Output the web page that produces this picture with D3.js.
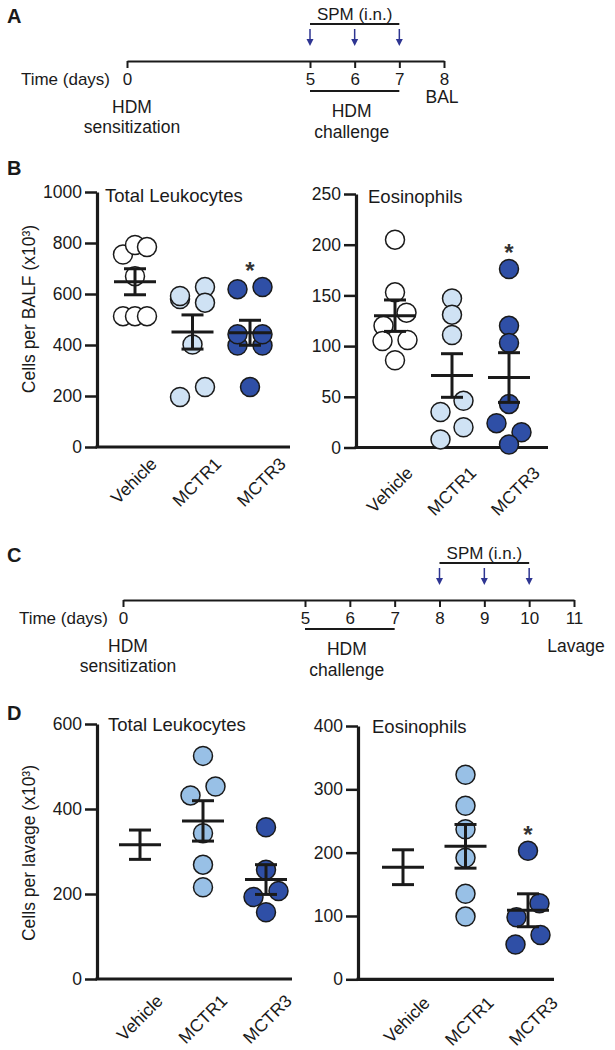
<!DOCTYPE html>
<html>
<head>
<meta charset="utf-8">
<script src="https://cdn.jsdelivr.net/npm/d3@7"></script>
<style>
  body { margin: 0; background: #fff; }
  svg { display: block; }
</style>
</head>
<body>
<svg id="fig"></svg>
<script>
// timeline days
const aDays = [0, 5, 6, 7, 8];
const aSpmDays = [5, 6, 7];
const cDays = [0, 5, 6, 7, 8, 9, 10, 11];
const cSpmDays = [8, 9, 10];

const groups = ["Vehicle", "MCTR1", "MCTR3"];

// B: BALF (x10^3)
const bLeukVehicle = [755, 792, 784, 670, 513, 513, 513];
const bLeukMCTR1 = [580, 592, 627, 566, 402, 196, 235];
const bLeukMCTR3 = [619, 627, 398, 442, 398, 442, 235];
const bLeukMean = [648, 451, 448];
const bLeukSem = [51, 67, 49];
const bLeukSig = [false, false, true];
const bLeukTicks = [0, 200, 400, 600, 800, 1000];

const bEosVehicle = [205, 153, 133, 120, 105, 106, 86];
const bEosMCTR1 = [147, 131, 111, 46, 35, 20, 8];
const bEosMCTR3 = [176, 120, 103, 43, 24, 15, 3];
const bEosMean = [130, 71, 69];
const bEosSem = [15.5, 21.5, 24.5];
const bEosSig = [false, false, true];
const bEosTicks = [0, 50, 100, 150, 200, 250];

// D: lavage (x10^3)
const dLeukVehicle = [];
const dLeukMCTR1 = [525, 432, 453, 343, 269, 216];
const dLeukMCTR3 = [357, 257, 193, 207, 157];
const dLeukMean = [316, 372, 234];
const dLeukSem = [34.5, 47.5, 35];
const dLeukSig = [false, false, false];
const dLeukTicks = [0, 200, 400, 600];

const dEosVehicle = [];
const dEosMCTR1 = [323, 274, 237, 192, 135, 99];
const dEosMCTR3 = [203, 120, 98, 55, 70];
const dEosMean = [177, 210, 109];
const dEosSem = [27.5, 34.5, 26];
const dEosSig = [false, false, true];
const dEosTicks = [0, 100, 200, 300, 400];

const FONT = '"Liberation Sans", Arial, Helvetica, sans-serif';
const ink = "#1a1a1a";
const arrowBlue = "#2e3592";
const bFill = ["#ffffff", "#cfe2f4", "#2f4fa6"];
const dFill = ["#ffffff", "#98c0e6", "#2f4fa6"];
const R = 9.5;

const svg = d3.select("#fig")
    .attr("width", 615)
    .attr("height", 1050)
    .style("font-family", FONT);

// panel letters
[["A", 23], ["B", 175], ["C", 562], ["D", 720]].forEach(([t, yy]) => {
  svg.append("text").attr("x", 7).attr("y", yy)
      .attr("font-size", 20).attr("font-weight", "bold").attr("fill", ink).text(t);
});

// spread points that sit close together, GraphPad-style
function swarm(vals, y) {
  const off = vals.map(() => 0);
  const order = d3.range(vals.length).sort((a, b) => vals[b] - vals[a] || a - b);
  const rows = [];
  order.forEach(i => {
    const row = rows[rows.length - 1];
    if (row && y(vals[i]) - y(vals[row[0]]) <= 10) row.push(i);
    else rows.push([i]);
  });
  let chain = [];
  const flush = () => {
    if (chain.length > 1) chain.forEach((i, k) => off[i] = k % 2 ? -11.5 : 11.5);
    chain = [];
  };
  rows.forEach(row => {
    if (row.length > 1) {
      flush();
      const sp = row.length === 2 ? 25 : 12;
      row.sort((a, b) => a - b).forEach((i, k) => off[i] = (k - (row.length - 1) / 2) * sp);
    } else {
      const prev = chain[chain.length - 1];
      if (prev !== undefined && y(vals[row[0]]) - y(vals[prev]) >= 16) flush();
      chain.push(row[0]);
    }
  });
  flush();
  return off;
}

function timeline(cfg) {
  const g = svg.append("g");
  const x = d3.scaleLinear().domain(cfg.dom).range(cfg.rng);

  const ax = g.append("g")
      .attr("transform", `translate(0,${cfg.lineY})`)
      .call(d3.axisBottom(x).tickValues(cfg.days).tickFormat(d3.format("d"))
          .tickSize(7).tickSizeOuter(0).tickPadding(5))
      .attr("font-size", 17).attr("font-family", FONT);
  ax.select(".domain").attr("stroke", ink).attr("stroke-width", 2);
  ax.selectAll(".tick line").attr("stroke", ink).attr("stroke-width", 2);
  ax.selectAll(".tick text").attr("fill", ink);

  g.append("text").attr("x", cfg.timeX).attr("y", cfg.lineY + 24)
      .attr("text-anchor", "end").attr("font-size", 17).attr("fill", ink)
      .text("Time (days)");

  // SPM bracket + arrows
  const s0 = cfg.spm[0], s1 = cfg.spm[cfg.spm.length - 1];
  g.append("line").attr("x1", x(s0)).attr("x2", x(s1))
      .attr("y1", cfg.spmY).attr("y2", cfg.spmY)
      .attr("stroke", ink).attr("stroke-width", 2);
  g.append("text").attr("x", (x(s0) + x(s1)) / 2).attr("y", cfg.spmY - 4)
      .attr("text-anchor", "middle").attr("font-size", 17).attr("fill", ink)
      .text("SPM (i.n.)");
  cfg.spm.forEach(d => {
    const ya = cfg.spmY + 5, yb = cfg.spmY + 22;
    g.append("line").attr("x1", x(d)).attr("x2", x(d))
        .attr("y1", ya).attr("y2", yb - 5)
        .attr("stroke", arrowBlue).attr("stroke-width", 1.5);
    g.append("path")
        .attr("d", `M${x(d) - 3.5},${yb - 7}L${x(d) + 3.5},${yb - 7}L${x(d)},${yb}Z`)
        .attr("fill", arrowBlue);
  });

  // challenge bracket
  g.append("line").attr("x1", x(5)).attr("x2", x(7))
      .attr("y1", cfg.chalY).attr("y2", cfg.chalY)
      .attr("stroke", ink).attr("stroke-width", 2);
  const t = g.append("text").attr("text-anchor", "middle").attr("font-size", 17.5).attr("fill", ink);
  t.append("tspan").attr("x", x(6) - 3).attr("y", cfg.chalY + 26).text("HDM");
  t.append("tspan").attr("x", x(6) - 3).attr("y", cfg.chalY + 47).text("challenge");

  const s = g.append("text").attr("text-anchor", "middle").attr("font-size", 17.5).attr("fill", ink);
  s.append("tspan").attr("x", x(0) + 5).attr("y", cfg.lineY + 52).text("HDM");
  s.append("tspan").attr("x", x(0) + 5).attr("y", cfg.lineY + 72).text("sensitization");

  g.append("text").attr("x", x(cfg.days[cfg.days.length - 1]) + cfg.endDx).attr("y", cfg.endY)
      .attr("text-anchor", "middle").attr("font-size", 17.5).attr("fill", ink)
      .text(cfg.endLabel);
}

function scatterPanel(cfg) {
  const g = svg.append("g");
  const y = d3.scaleLinear().domain([0, cfg.max]).range([cfg.y0, cfg.y1]);
  const x = d3.scalePoint().domain(groups).range(cfg.xr);
  const lx = d3.scalePoint().domain(groups).range(cfg.lxr);

  const ax = g.append("g")
      .attr("transform", `translate(${cfg.ax},0)`)
      .call(d3.axisLeft(y).tickValues(cfg.ticks).tickFormat(d3.format("d"))
          .tickSize(12).tickSizeOuter(0).tickPadding(3))
      .attr("font-size", 17.5).attr("font-family", FONT);
  ax.select(".domain").attr("stroke", ink).attr("stroke-width", 3.2);
  ax.selectAll(".tick line").attr("stroke", ink).attr("stroke-width", 2.5);
  ax.selectAll(".tick text").attr("fill", ink);

  g.append("line")
      .attr("x1", cfg.ax - 1.5).attr("x2", cfg.axEnd)
      .attr("y1", y(0)).attr("y2", y(0))
      .attr("stroke", ink).attr("stroke-width", 3.2);

  // points
  cfg.data.forEach((vals, i) => {
    const off = swarm(vals, y);
    g.append("g").selectAll("circle")
        .data(vals)
        .enter()
        .append("circle")
        .attr("cx", (d, j) => x(groups[i]) + off[j])
        .attr("cy", d => y(d))
        .attr("r", R)
        .attr("fill", cfg.fill[i])
        .attr("stroke", ink)
        .attr("stroke-width", 1.5);
  });

  // mean +/- SEM
  groups.forEach((grp, i) => {
    const cx = x(grp), m = cfg.mean[i], e = cfg.sem[i];
    const seg = (x1, y1, x2, y2) => g.append("line")
        .attr("x1", x1).attr("y1", y1).attr("x2", x2).attr("y2", y2)
        .attr("stroke", ink).attr("stroke-width", 3);
    seg(cx - 21, y(m), cx + 21, y(m));
    seg(cx, y(m - e), cx, y(m + e));
    seg(cx - 11, y(m + e), cx + 11, y(m + e));
    seg(cx - 11, y(m - e), cx + 11, y(m - e));
    if (cfg.sig[i]) {
      g.append("text")
          .attr("x", cx).attr("y", y(d3.max(cfg.data[i])) - 22 + 14)
          .attr("text-anchor", "middle").attr("font-size", 24).attr("font-weight", "bold")
          .attr("fill", "#333").text("*");
    }
  });

  // rotated category labels
  g.selectAll(".xl")
      .data(groups)
      .enter()
      .append("text")
      .attr("text-anchor", "end")
      .attr("font-size", 17.5)
      .attr("fill", ink)
      .attr("transform", d => `translate(${lx(d)},${cfg.ly}) rotate(-45)`)
      .text(d => d);

  g.append("text").attr("x", cfg.tx).attr("y", cfg.ty)
      .attr("font-size", 18.5).attr("fill", ink).text(cfg.title);

  if (cfg.yTitle) {
    g.append("text")
        .attr("transform", `translate(35,${cfg.yTitleY}) rotate(-90)`)
        .attr("text-anchor", "middle").attr("font-size", 17.5).attr("fill", ink)
        .text(cfg.yTitle);
  }
}

timeline({
  dom: [0, 5, 8], rng: [127, 310, 444], days: aDays, spm: aSpmDays,
  lineY: 61, timeX: 110, spmY: 24, chalY: 91,
  endLabel: "BAL", endDx: -2, endY: 103
});

timeline({
  dom: [0, 5, 11], rng: [123, 305, 574], days: cDays, spm: cSpmDays,
  lineY: 600, timeX: 108, spmY: 563, chalY: 629,
  endLabel: "Lavage", endDx: 2, endY: 652
});

scatterPanel({
  data: [bLeukVehicle, bLeukMCTR1, bLeukMCTR3], mean: bLeukMean, sem: bLeukSem, sig: bLeukSig,
  ticks: bLeukTicks, max: 1000, y0: 447, y1: 192, xr: [135, 250], lxr: [158, 287], ly: 465,
  ax: 97, axEnd: 290, fill: bFill, title: "Total Leukocytes", tx: 105, ty: 202,
  yTitle: "Cells per BALF (x10\u00B3)", yTitleY: 309
});

scatterPanel({
  data: [bEosVehicle, bEosMCTR1, bEosMCTR3], mean: bEosMean, sem: bEosSem, sig: bEosSig,
  ticks: bEosTicks, max: 250, y0: 447.5, y1: 194, xr: [395, 509], lxr: [414, 541], ly: 474,
  ax: 356, axEnd: 548, fill: bFill, title: "Eosinophils", tx: 368, ty: 203
});

scatterPanel({
  data: [dLeukVehicle, dLeukMCTR1, dLeukMCTR3], mean: dLeukMean, sem: dLeukSem, sig: dLeukSig,
  ticks: dLeukTicks, max: 600, y0: 979, y1: 724, xr: [140, 266], lxr: [164, 293], ly: 1002,
  ax: 97, axEnd: 292, fill: dFill, title: "Total Leukocytes", tx: 108, ty: 731,
  yTitle: "Cells per lavage (x10\u00B3)", yTitleY: 853
});

scatterPanel({
  data: [dEosVehicle, dEosMCTR1, dEosMCTR3], mean: dEosMean, sem: dEosSem, sig: dEosSig,
  ticks: dEosTicks, max: 400, y0: 979.3, y1: 726, xr: [403, 528], lxr: [431, 559], ly: 1004,
  ax: 358, axEnd: 554, fill: dFill, title: "Eosinophils", tx: 372, ty: 733
});
</script>
</body>
</html>
